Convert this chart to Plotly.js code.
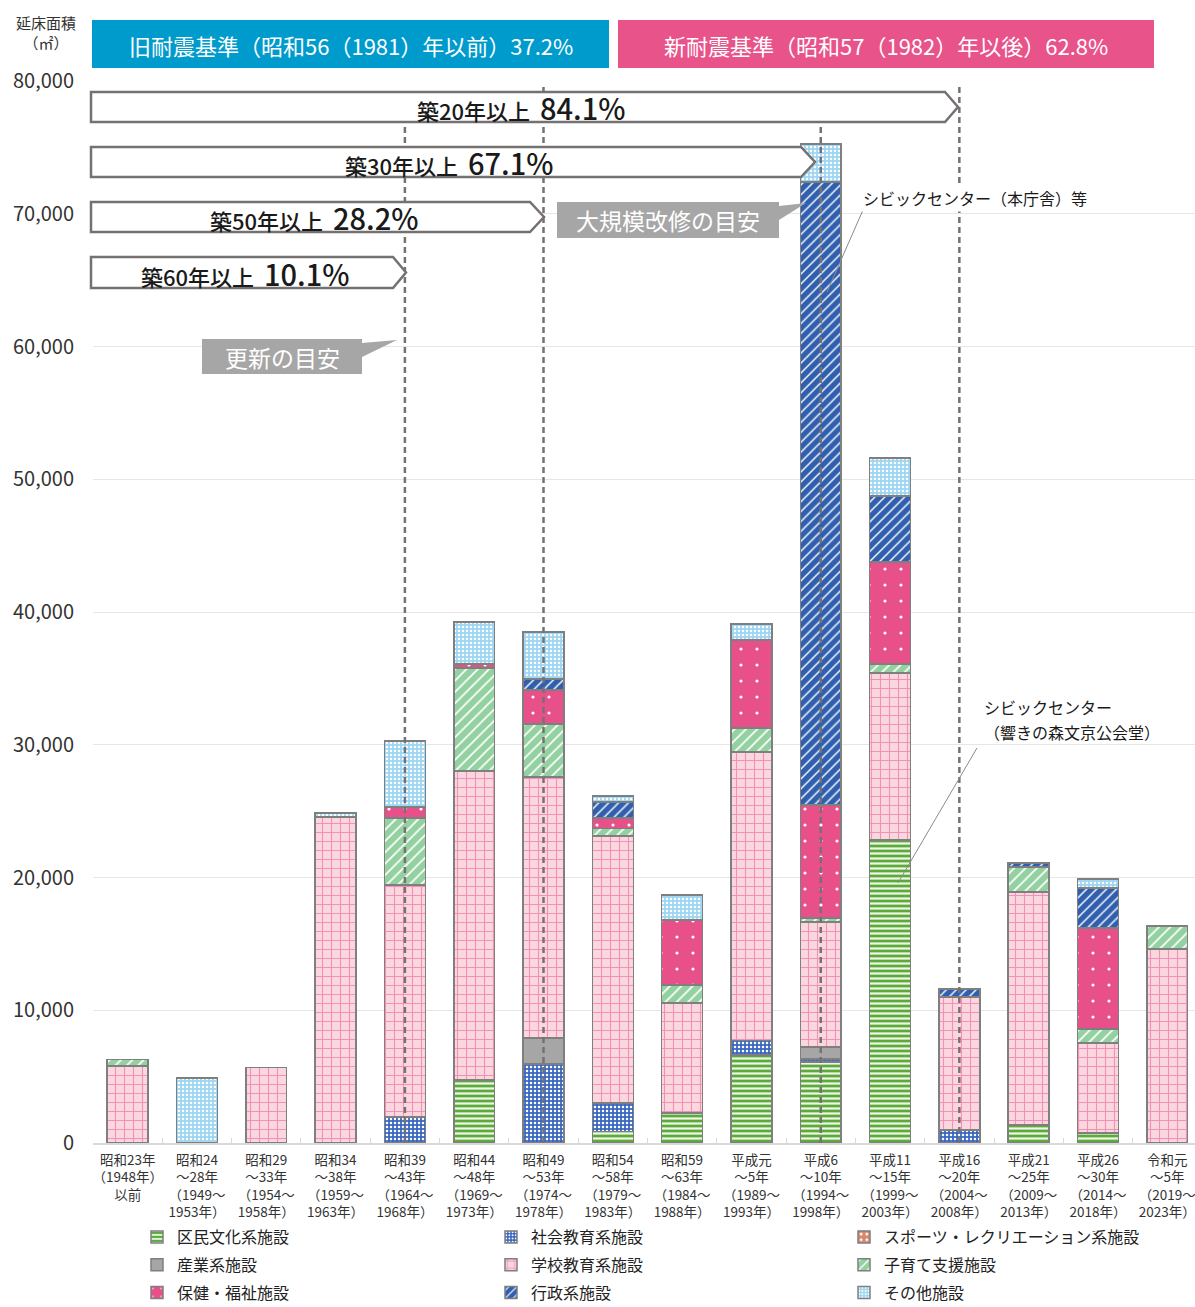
<!DOCTYPE html>
<html><head><meta charset="utf-8">
<script src="https://cdn.plot.ly/plotly-3.0.1.min.js"></script>
<style>body{margin:0;background:#fff}#chart{width:1195px;height:1307px}</style>
</head><body><div id="chart"></div>
<script>
// ---------- DATA ----------
const categories = [
  '昭和23年<br>（1948年）<br>以前',
  '昭和24<br>～28年<br>（1949～<br>1953年）',
  '昭和29<br>～33年<br>（1954～<br>1958年）',
  '昭和34<br>～38年<br>（1959～<br>1963年）',
  '昭和39<br>～43年<br>（1964～<br>1968年）',
  '昭和44<br>～48年<br>（1969～<br>1973年）',
  '昭和49<br>～53年<br>（1974～<br>1978年）',
  '昭和54<br>～58年<br>（1979～<br>1983年）',
  '昭和59<br>～63年<br>（1984～<br>1988年）',
  '平成元<br>～5年<br>（1989～<br>1993年）',
  '平成6<br>～10年<br>（1994～<br>1998年）',
  '平成11<br>～15年<br>（1999～<br>2003年）',
  '平成16<br>～20年<br>（2004～<br>2008年）',
  '平成21<br>～25年<br>（2009～<br>2013年）',
  '平成26<br>～30年<br>（2014～<br>2018年）',
  '令和元<br>～5年<br>（2019～<br>2023年）'
];
const kuminBunka = [0,0,0,0,0,4750,0,850,2260,6630,6100,22820,0,1360,750,0];
const shakaiKyoiku = [0,0,0,0,1960,0,5950,2160,0,1080,230,0,980,0,0,0];
const sangyo = [0,0,0,0,0,0,1960,0,0,0,900,0,0,0,0,0];
const gakkoKyoiku = [5800,0,5700,24550,17470,23270,19660,20120,8290,21740,9420,12580,10020,17550,6800,14610];
const sports = [0,0,0,0,0,0,0,0,0,0,0,0,0,0,0,0];
const kosodate = [500,0,0,0,5050,7760,3990,570,1350,1810,300,680,0,1880,1040,1740];
const hokenFukushi = [0,0,0,0,830,300,2560,780,4900,6630,8510,7690,0,0,7610,0];
const gyosei = [0,0,0,0,0,0,830,1210,0,0,46930,4970,600,300,3010,0];
const sonota = [0,4900,0,300,4970,3170,3550,450,1880,1210,2860,2860,0,0,680,0];
const seriesNames = ['区民文化系施設','社会教育系施設','産業系施設','学校教育系施設','スポーツ・レクリエーション系施設','子育て支援施設','保健・福祉施設','行政系施設','その他施設'];
const yTicks = [0,10000,20000,30000,40000,50000,60000,70000,80000];

// ---------- STYLE ----------
const FONT = "'Noto Sans CJK JP','Noto Sans',sans-serif";
const W = 1195, H = 1307, ML = 93, MR = 0, MT = 81, MB = 164;
const PW = W - ML - MR, PH = H - MT - MB;
const px = x => (x - ML) / PW;
const py = y => (H - MB - y) / PH;

const styles = [
  {color:'#5BAA3A', pattern:{shape:'-', fgcolor:'#EEF6E8', bgcolor:'#5BAA3A', size:5, solidity:0.45}, legend:'legend'},
  {color:'#3A68C0', pattern:{shape:'.', fgcolor:'#FFFFFF', bgcolor:'#3A68C0', size:4, solidity:0.3}, legend:'legend2'},
  {color:'#A6A6A6', pattern:{shape:''}, legend:'legend'},
  {color:'#FAD6DE', pattern:{shape:'+', fgcolor:'#F290B8', bgcolor:'#FAD6DE', size:9, solidity:0.22}, legend:'legend2'},
  {color:'#D9876E', pattern:{shape:'.', fgcolor:'#FFFFFF', bgcolor:'#D9876E', size:7, solidity:0.2}, legend:'legend3'},
  {color:'#93D1A0', pattern:{shape:'/', fgcolor:'#FFFFFF', bgcolor:'#93D1A0', size:8, solidity:0.22}, legend:'legend3'},
  {color:'#E8508A', pattern:{shape:'.', fgcolor:'#FFFFFF', bgcolor:'#E8508A', size:16, solidity:0.03}, legend:'legend'},
  {color:'#2F5FAE', pattern:{shape:'/', fgcolor:'#FFFFFF', bgcolor:'#2F5FAE', size:7, solidity:0.2}, legend:'legend2'},
  {color:'#9DD6F3', pattern:{shape:'.', fgcolor:'#FFFFFF', bgcolor:'#9DD6F3', size:4, solidity:0.3}, legend:'legend3'}
];
const seriesValues = [kuminBunka, shakaiKyoiku, sangyo, gakkoKyoiku, sports, kosodate, hokenFukushi, gyosei, sonota];

const traces = seriesValues.map((vals, i) => ({
  type:'bar', x:categories, y:vals, name:seriesNames[i],
  legend:styles[i].legend, legendgroup:'g'+i,
  marker:{color:styles[i].color, pattern:Object.assign({fillmode:'replace'}, styles[i].pattern),
          line:{color:'#7F7F7F', width:1.5}},
  hoverinfo:'name+y'
}));

// ---------- DECORATION ----------
const shapes = [];
const annotations = [];
const dash = {color:'#767171', width:2.5, dash:'6px,4px'};
[[4,122],[6,86],[10,122],[12,86]].forEach(([c,top]) => {
  shapes.push({type:'line', xref:'x', yref:'paper', x0:c, x1:c, y0:0, y1:py(top), line:dash, layer:'above'});
});
function pent(x0,x1,tip,y0,y1){
  const ym=(y0+y1)/2;
  return `M${px(x0)},${py(y0)} L${px(x1)},${py(y0)} L${px(tip)},${py(ym)} L${px(x1)},${py(y1)} L${px(x0)},${py(y1)} Z`;
}
const boxes = [
  {x1:945, tip:958, y0:92, y1:122, a:'築20年以上', b:'84.1%'},
  {x1:801, tip:815, y0:147, y1:177, a:'築30年以上', b:'67.1%'},
  {x1:530, tip:544, y0:202, y1:232, a:'築50年以上', b:'28.2%'},
  {x1:393, tip:406, y0:257, y1:288, a:'築60年以上', b:'10.1%'}
];
boxes.forEach(bx => {
  shapes.push({type:'path', xref:'paper', yref:'paper', path:pent(91,bx.x1,bx.tip,bx.y0,bx.y1),
    fillcolor:'#FFFFFF', line:{color:'#767171', width:2.5}, layer:'above'});
  annotations.push({xref:'paper', yref:'paper', x:px((91+bx.tip)/2 - 4), y:py((bx.y0+bx.y1)/2),
    xanchor:'center', yanchor:'middle', showarrow:false,
    text:`${bx.a}\u00a0\u00a0<span style="font-size:29px">${bx.b}</span>`,
    font:{family:FONT, size:22, color:'#1a1a1a', weight:500}});
});
// header boxes
shapes.push({type:'rect', xref:'paper', yref:'paper', x0:px(92), x1:px(609), y0:py(68), y1:py(20), fillcolor:'#009BCD', line:{width:0}, layer:'above'});
shapes.push({type:'rect', xref:'paper', yref:'paper', x0:px(618), x1:px(1154), y0:py(68), y1:py(20), fillcolor:'#E8538A', line:{width:0}, layer:'above'});
annotations.push({xref:'paper', yref:'paper', x:px(351), y:py(45), showarrow:false, xanchor:'center', yanchor:'middle',
  text:'旧耐震基準（昭和56（1981）年以前）37.2%', font:{family:FONT, size:22, color:'#FFFFFF'}});
annotations.push({xref:'paper', yref:'paper', x:px(886), y:py(45), showarrow:false, xanchor:'center', yanchor:'middle',
  text:'新耐震基準（昭和57（1982）年以後）62.8%', font:{family:FONT, size:22, color:'#FFFFFF'}});
// gray callouts
function callout(x0,x1,y0,y1,t1,t2,tip){
  return `M${px(x0)},${py(y0)} L${px(x1)},${py(y0)} L${px(x1)},${py(t1)} L${px(tip[0])},${py(tip[1])} L${px(x1)},${py(t2)} L${px(x1)},${py(y1)} L${px(x0)},${py(y1)} Z`;
}
shapes.push({type:'path', xref:'paper', yref:'paper', path:callout(202,362,339,374,343,357,[397,340]), fillcolor:'#A6A6A6', line:{width:0}, layer:'above'});
shapes.push({type:'path', xref:'paper', yref:'paper', path:callout(557,779,202,238,206,220,[806,203]), fillcolor:'#A6A6A6', line:{width:0}, layer:'above'});
annotations.push({xref:'paper', yref:'paper', x:px(282), y:py(357), showarrow:false, xanchor:'center', yanchor:'middle',
  text:'更新の目安', font:{family:FONT, size:23, color:'#FFFFFF'}});
annotations.push({xref:'paper', yref:'paper', x:px(668), y:py(220), showarrow:false, xanchor:'center', yanchor:'middle',
  text:'大規模改修の目安', font:{family:FONT, size:23, color:'#FFFFFF'}});
// leader lines & labels
shapes.push({type:'line', xref:'paper', yref:'paper', x0:px(863), y0:py(210), x1:px(827), y1:py(292), line:{color:'#8A8A8A', width:1}, layer:'above'});
shapes.push({type:'line', xref:'paper', yref:'paper', x0:px(977), y0:py(748), x1:px(898), y1:py(883), line:{color:'#8A8A8A', width:1}, layer:'above'});
annotations.push({xref:'paper', yref:'paper', x:px(975), y:py(198), showarrow:false, xanchor:'center', yanchor:'middle',
  text:'シビックセンター（本庁舎）等', bgcolor:'#FFFFFF', font:{family:FONT, size:16, color:'#1a1a1a'}});
annotations.push({xref:'paper', yref:'paper', x:px(982), y:py(707), showarrow:false, xanchor:'left', yanchor:'middle', align:'left',
  text:'シビックセンター', font:{family:FONT, size:16, color:'#1a1a1a'}});
annotations.push({xref:'paper', yref:'paper', x:px(982), y:py(732), showarrow:false, xanchor:'left', yanchor:'middle', align:'left',
  text:'（響きの森文京公会堂）', font:{family:FONT, size:16, color:'#1a1a1a'}});
// y-axis title
annotations.push({xref:'paper', yref:'paper', x:px(46), y:py(32), showarrow:false, xanchor:'center', yanchor:'middle',
  text:'延床面積<br>（㎡）', font:{family:FONT, size:15, color:'#333333'}});

const legendBase = {orientation:'v', xanchor:'left', yanchor:'top', traceorder:'grouped', tracegroupgap:4,
  itemwidth:30, bgcolor:'rgba(0,0,0,0)', font:{family:FONT, size:16, color:'#222222'}, y:py(1220)};

const layout = {
  width:W, height:H, margin:{l:ML, r:MR, t:MT, b:MB, autoexpand:false},
  paper_bgcolor:'#FFFFFF', plot_bgcolor:'#FFFFFF',
  barmode:'stack', bargap:0.41,
  font:{family:FONT, color:'#333333'},
  xaxis:{type:'category', range:[-0.5,15.4], tickson:'boundaries', ticks:'inside', ticklen:5, tickcolor:'#D9D9D9',
    showline:true, linecolor:'#D9D9D9', linewidth:1.5, showgrid:false, ticklabelstandoff:4,
    tickfont:{family:FONT, size:13.5, color:'#333333'}, tickangle:0, automargin:false},
  yaxis:{range:[0,80000], tickvals:yTicks, tickformat:',d', showgrid:true, gridcolor:'#E6E6E6', gridwidth:1,
    zeroline:false, showline:false, ticks:'', ticklabelstandoff:18,
    tickfont:{family:FONT, size:20, color:'#333333'}, automargin:false},
  showlegend:true,
  legend: Object.assign({}, legendBase, {x:px(137)}),
  legend2: Object.assign({}, legendBase, {x:px(491)}),
  legend3: Object.assign({}, legendBase, {x:px(844)}),
  shapes:shapes, annotations:annotations
};
Plotly.newPlot('chart', traces, layout, {displayModeBar:false, staticPlot:true});
</script></body></html>
